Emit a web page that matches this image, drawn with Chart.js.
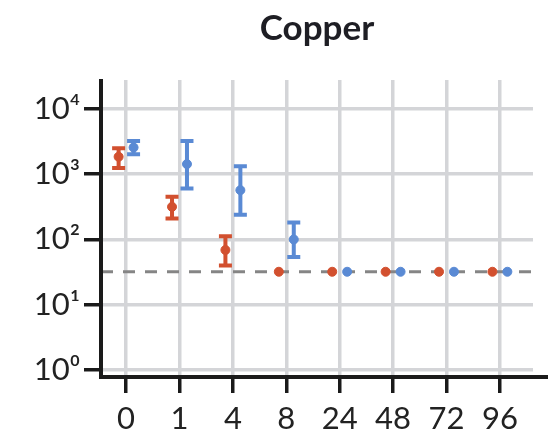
<!DOCTYPE html>
<html>
<head>
<meta charset="utf-8">
<script src="https://cdn.jsdelivr.net/npm/chart.js@4.4.1/dist/chart.umd.min.js"></script>
<style>
  html, body { margin: 0; padding: 0; background: #fff; }
  #wrap { width: 560px; height: 431px; }
</style>
</head>
<body>
<div id="wrap"><canvas id="copperChart" width="560" height="431"></canvas></div>
<script>
// Data
const categories = ['0', '1', '4', '8', '24', '48', '72', '96'];
const yTicks = [1, 10, 100, 1000, 10000];
const yTickLabels = ['10\u2070', '10\u00b9', '10\u00b2', '10\u00b3', '10\u2074'];

const redMean = [1850, 316, 69, 32, 32, 32, 32, 32];
const redLow = [1240, 210, 40, null, null, null, null, null];
const redHigh = [2500, 450, 112, null, null, null, null, null];

const blueMean = [2570, 1430, 570, 100, 32, 32, 32, 32];
const blueLow = [2030, 605, 240, 54, null, null, null, null];
const blueHigh = [3240, 3240, 1330, 182, null, null, null, null];

const detectionLimit = 32;

const redColor = '#d2502f';
const blueColor = '#5a8ad4';
const gridColor = '#d4d5d8';
const fontFamily = 'Lato, "Open Sans", sans-serif';

// points sit a little left / right of the category line
const shift = 0.14;
function toPoints(values, dx) {
    return values.map(function (v, i) {
        return { x: i + dx, y: v };
    });
}

// error bars + detection limit line + the black axes
const extrasPlugin = {
    id: 'extras',
    beforeDatasetsDraw(chart) {
        const ctx = chart.ctx;
        const area = chart.chartArea;
        const yScale = chart.scales.y;

        // dashed detection limit
        const yLim = yScale.getPixelForValue(detectionLimit);
        ctx.save();
        ctx.strokeStyle = '#858585';
        ctx.lineWidth = 3;
        ctx.setLineDash([12, 10]);
        ctx.beginPath();
        ctx.moveTo(area.left, yLim);
        ctx.lineTo(area.right, yLim);
        ctx.stroke();
        ctx.restore();

        // error bars
        const bars = [
            { idx: 0, low: redLow, high: redHigh, color: redColor },
            { idx: 1, low: blueLow, high: blueHigh, color: blueColor }
        ];
        bars.forEach(function (b) {
            const meta = chart.getDatasetMeta(b.idx);
            meta.data.forEach(function (pt, i) {
                if (b.low[i] == null) return;
                const top = yScale.getPixelForValue(b.high[i]);
                const bottom = yScale.getPixelForValue(b.low[i]);
                ctx.save();
                ctx.strokeStyle = b.color;
                ctx.lineWidth = 4;
                ctx.beginPath();
                ctx.moveTo(pt.x, top);
                ctx.lineTo(pt.x, bottom);
                ctx.moveTo(pt.x - 6.5, top);
                ctx.lineTo(pt.x + 6.5, top);
                ctx.moveTo(pt.x - 6.5, bottom);
                ctx.lineTo(pt.x + 6.5, bottom);
                ctx.stroke();
                ctx.restore();
            });
        });
    },
    afterDraw(chart) {
        const ctx = chart.ctx;
        const area = chart.chartArea;
        ctx.save();
        ctx.strokeStyle = '#1a1a1a';
        ctx.lineWidth = 4;
        ctx.lineCap = 'square';
        ctx.beginPath();
        ctx.moveTo(area.left, area.top + 1);
        ctx.lineTo(area.left, area.bottom);
        ctx.lineTo(area.right + 13, area.bottom);
        ctx.stroke();
        ctx.restore();
    }
};

const chartEl = document.getElementById('copperChart');

const chart = new Chart(chartEl, {
    type: 'scatter',
    data: {
        datasets: [
            {
                label: 'red',
                data: toPoints(redMean, -shift),
                backgroundColor: redColor,
                borderColor: redColor,
                pointRadius: 4.5,
                pointHoverRadius: 4.5
            },
            {
                label: 'blue',
                data: toPoints(blueMean, shift),
                backgroundColor: blueColor,
                borderColor: blueColor,
                pointRadius: 4.5,
                pointHoverRadius: 4.5
            }
        ]
    },
    options: {
        responsive: false,
        animation: false,
        events: [],
        layout: {
            padding: { top: 0, right: 27, bottom: 0, left: 0 }
        },
        plugins: {
            legend: { display: false },
            tooltip: { enabled: false },
            title: {
                display: true,
                fullSize: false,
                text: 'Copper',
                color: '#1e1e24',
                font: { family: fontFamily, size: 35, weight: 'bold', lineHeight: 1.2 },
                padding: { top: 8, bottom: 30 }
            }
        },
        scales: {
            x: {
                type: 'linear',
                min: -0.47,
                max: 7.62,
                afterBuildTicks: function (scale) {
                    scale.ticks = categories.map(function (c, i) { return { value: i }; });
                },
                afterFit: function (scale) {
                    scale.height = 54;
                },
                border: { display: false },
                grid: {
                    color: gridColor,
                    lineWidth: 3.5,
                    tickColor: '#1a1a1a',
                    tickWidth: 3.5,
                    tickLength: 16
                },
                ticks: {
                    color: '#222',
                    padding: 7,
                    maxRotation: 0,
                    font: { family: fontFamily, size: 31 },
                    callback: function (value) {
                        return categories[value];
                    }
                }
            },
            y: {
                type: 'logarithmic',
                min: 0.78,
                max: 27800,
                afterBuildTicks: function (scale) {
                    scale.ticks = yTicks.map(function (v) { return { value: v }; });
                },
                afterFit: function (scale) {
                    scale.width = 101;
                },
                border: { display: false },
                grid: {
                    color: gridColor,
                    lineWidth: 3.5,
                    tickColor: '#1a1a1a',
                    tickWidth: 3.5,
                    tickLength: 17
                },
                ticks: {
                    color: '#222',
                    padding: 4,
                    font: { family: fontFamily, size: 31 },
                    callback: function (value) {
                        const i = yTicks.indexOf(value);
                        return i >= 0 ? yTickLabels[i] : '';
                    }
                }
            }
        }
    },
    plugins: [extrasPlugin]
});
</script>
</body>
</html>
